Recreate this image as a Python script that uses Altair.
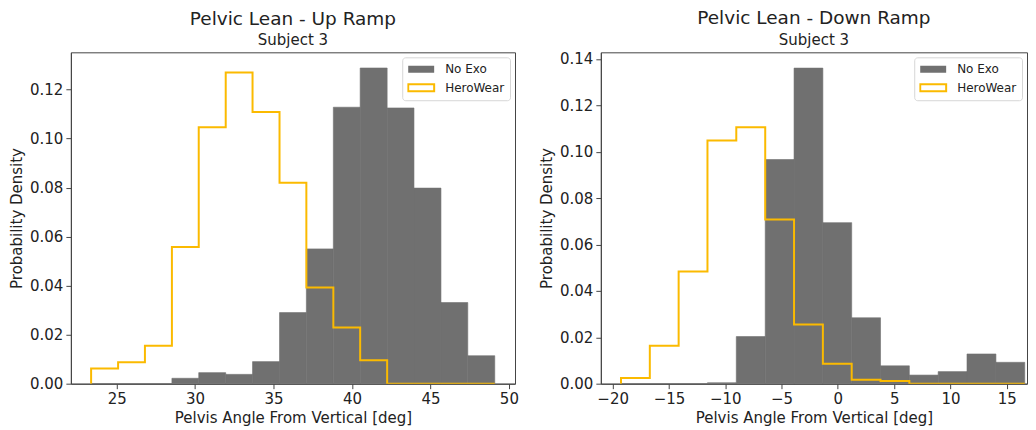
import altair as alt
import pandas as pd

# ---------------- data ----------------
# Up ramp (shared bin edges, probability density per bin)
up_edges = [23.37, 25.09, 26.80, 28.52, 30.23, 31.95, 33.66, 35.38, 37.09,
            38.81, 40.52, 42.24, 43.95, 45.67, 47.38, 49.10]
up_noexo = [0.0, 0.0, 0.0, 0.0022, 0.0045, 0.0038, 0.0090, 0.0290, 0.0550,
            0.1128, 0.1288, 0.1125, 0.0798, 0.0331, 0.0114]
up_hero = [0.0062, 0.0087, 0.0155, 0.0558, 0.1046, 0.1270, 0.1109, 0.0820,
           0.0392, 0.0229, 0.0096, 0.0, 0.0, 0.0, 0.0]

# Down ramp
down_edges = [-19.26, -16.70, -14.14, -11.58, -9.02, -6.45, -3.89, -1.33,
              1.23, 3.79, 6.35, 8.91, 11.47, 14.04, 16.60]
down_noexo = [0.0, 0.0, 0.0, 0.0004, 0.0203, 0.0966, 0.1360, 0.0694, 0.0284,
              0.0077, 0.0037, 0.0052, 0.0128, 0.0092]
down_hero = [0.0024, 0.0163, 0.0483, 0.1048, 0.1105, 0.0708, 0.0255, 0.0086,
             0.0017, 0.0011, 0.0, 0.0, 0.0, 0.0]

series_names = ["No Exo", "HeroWear"]
up_xticks = [25, 30, 35, 40, 45, 50]
down_xticks = [-20, -15, -10, -5, 0, 5, 10, 15]
up_yticks = [0.0, 0.02, 0.04, 0.06, 0.08, 0.10, 0.12]
down_yticks = [0.0, 0.02, 0.04, 0.06, 0.08, 0.10, 0.12, 0.14]

GRAY = "#707070"
GOLD = "#FBBA00"
FONT = "DejaVu Sans"
TXT = "#222222"
AX = "#444444"


def bars_table(edges, vals):
    return pd.DataFrame({"x0": edges[:-1], "x1": edges[1:], "h": vals,
                         "base": [0.0] * len(vals),
                         "series": series_names[0]})


def step_table(edges, vals):
    xs = [edges[0]] + list(edges[:-1]) + [edges[-1]]
    ys = [0.0] + list(vals) + [0.0]
    return pd.DataFrame({"x": xs, "h": ys, "i": list(range(len(xs))),
                         "series": series_names[1]})


def make_legend():
    return alt.Legend(
        title=None, orient="top-right", offset=5, padding=5,
        symbolType="M-1,-0.27H1V0.27H-1Z", symbolSize=676,
        symbolStrokeWidth=2, clipHeight=14, rowPadding=4.6,
        labelFont=FONT, labelFontSize=12, labelColor=TXT, labelOffset=10,
        strokeColor="#d6d6d6", fillColor="white", cornerRadius=3,
    )


def panel(title, edges, noexo, hero, xdom, ydom, xticks, yticks, width):
    xscale = alt.Scale(domain=xdom, nice=False, zero=False)
    yscale = alt.Scale(domain=ydom, nice=False)
    xaxis = alt.Axis(values=xticks, title="Pelvis Angle From Vertical [deg]",
                     format="d", grid=False, tickSize=5, labelPadding=3,
                     titlePadding=4)
    yaxis = alt.Axis(values=yticks, title="Probability Density", format=".2f",
                     grid=False, tickSize=5, labelPadding=3, titlePadding=5)

    bars = alt.Chart(bars_table(edges, noexo)).mark_rect(
        stroke=GRAY, strokeWidth=0.6
    ).encode(
        x=alt.X("x0:Q", scale=xscale, axis=xaxis),
        x2="x1:Q",
        y=alt.Y("h:Q", scale=yscale, axis=yaxis),
        y2="base:Q",
        fill=alt.Fill("series:N",
                      scale=alt.Scale(domain=series_names,
                                      range=[GRAY, "white"]),
                      legend=make_legend()),
    )
    steps = alt.Chart(step_table(edges, hero)).mark_line(
        interpolate="step-after", strokeWidth=2, clip=True
    ).encode(
        x=alt.X("x:Q", scale=xscale),
        y=alt.Y("h:Q", scale=yscale),
        order="i:Q",
        stroke=alt.Stroke("series:N",
                          scale=alt.Scale(domain=series_names,
                                          range=["transparent", GOLD]),
                          legend=make_legend()),
    )
    return alt.layer(bars, steps).properties(
        width=width, height=332,
        title=alt.TitleParams(text=title, subtitle="Subject 3", fontSize=18.5,
                              subtitleFontSize=15, font=FONT,
                              subtitleFont=FONT, fontWeight="normal",
                              color=TXT, subtitleColor=TXT, anchor="middle",
                              offset=4, subtitlePadding=5),
    )


left = panel("Pelvic Lean - Up Ramp", up_edges, up_noexo, up_hero,
             [22.08, 50.39], [0, 0.1352], up_xticks, up_yticks, 445)
right = panel("Pelvic Lean - Down Ramp", down_edges, down_noexo, down_hero,
              [-21.05, 16.8], [0, 0.1428], down_xticks, down_yticks, 427)

chart = alt.hconcat(left, right, spacing=20).resolve_scale(
    fill="independent", stroke="independent"
).resolve_legend(fill="independent", stroke="independent").properties(
    padding={"left": 1, "top": 0, "right": 0, "bottom": 0},
    background="white",
).configure_view(
    stroke=AX, strokeWidth=1
).configure_axis(
    labelFont=FONT, titleFont=FONT, labelFontSize=15, titleFontSize=15,
    titleFontWeight="normal", labelColor=TXT, titleColor=TXT,
    domainColor=AX, tickColor=AX,
)

chart.save("out.html", embed_options={"renderer": "svg", "actions": False})
